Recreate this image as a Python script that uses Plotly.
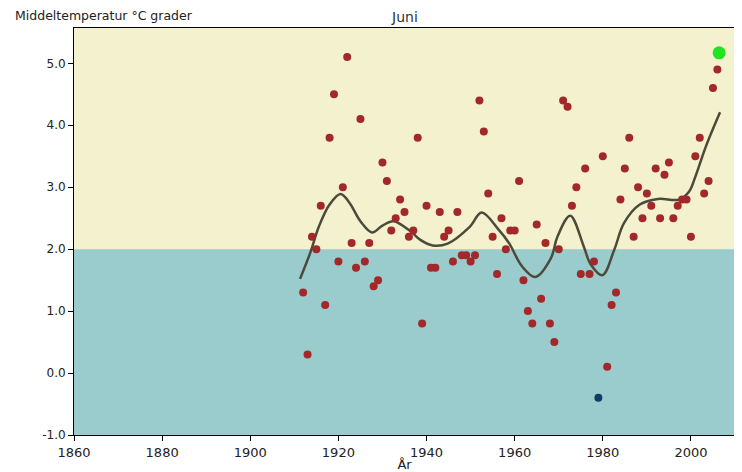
import plotly.graph_objects as go

# Data (June mean temperature, °C)
years = list(range(1912, 2007))
temps = [1.3, 0.3, 2.2, 2.0, 2.7, 1.1, 3.8, 4.5, 1.8, 3.0,
         5.1, 2.1, 1.7, 4.1, 1.8, 2.1, 1.4, 1.5, 3.4, 3.1,
         2.3, 2.5, 2.8, 2.6, 2.2, 2.3, 3.8, 0.8, 2.7, 1.7,
         1.7, 2.6, 2.2, 2.3, 1.8, 2.6, 1.9, 1.9, 1.8, 1.9,
         4.4, 3.9, 2.9, 2.2, 1.6, 2.5, 2.0, 2.3, 2.3, 3.1,
         1.5, 1.0, 0.8, 2.4, 1.2, 2.1, 0.8, 0.5, 2.0, 4.4,
         4.3, 2.7, 3.0, 1.6, 3.3, 1.6, 1.8, None, 3.5, 0.1,
         1.1, 1.3, 2.8, 3.3, 3.8, 2.2, 3.0, 2.5, 2.9, 2.7,
         3.3, 2.5, 3.2, 3.4, 2.5, 2.7, 2.8, 2.8, 2.2, 3.5,
         3.8, 2.9, 3.1, 4.6, 4.9]

min_year = [1979]
min_temp = [-0.4]
latest_year = [2006.4]
latest_temp = [5.17]

# Smoothed curve
curve_years = [1911.3, 1913.6, 1915.6, 1918.0, 1920.5, 1922.5, 1925.0, 1927.6,
               1930.0, 1932.5, 1936.5, 1938.6, 1941.4, 1944.8, 1949.8, 1952.5,
               1956.4, 1958.7, 1961.7, 1964.7, 1968.2, 1969.7, 1972.6, 1975.7,
               1977.2, 1979.9, 1982.6, 1984.8, 1988.4, 1992.5, 1997.3, 1999.6,
               2001.0, 2003.4, 2006.6]
curve_vals = [1.52, 1.94, 2.37, 2.72, 2.89, 2.75, 2.45, 2.27,
              2.38, 2.45, 2.28, 2.15, 2.06, 2.09, 2.36, 2.59,
              2.31, 2.10, 1.72, 1.55, 1.85, 2.20, 2.54, 2.04,
              1.76, 1.58, 1.99, 2.42, 2.72, 2.81, 2.80, 2.93,
              3.17, 3.66, 4.21]

x_ticks = [1860, 1880, 1900, 1920, 1940, 1960, 1980, 2000]
y_ticks = [-1.0, 0.0, 1.0, 2.0, 3.0, 4.0, 5.0]
threshold = 2.0

YELLOW = "#F3F1CE"
TEAL = "#9ACBCD"
RED = "#A3282A"

fig = go.Figure()

fig.add_trace(go.Scatter(
    x=curve_years, y=curve_vals, mode="lines", line_shape="spline",
    line=dict(color="#4B4B3C", width=2.5), hoverinfo="skip"))

fig.add_trace(go.Scatter(
    x=years, y=temps, mode="markers",
    marker=dict(color=RED, size=8, symbol="circle")))

fig.add_trace(go.Scatter(
    x=min_year, y=min_temp, mode="markers",
    marker=dict(color="#0D3D66", size=8, symbol="circle")))

fig.add_trace(go.Scatter(
    x=latest_year, y=latest_temp, mode="markers",
    marker=dict(color="#22E322", size=13, symbol="circle")))

fig.add_shape(type="rect", xref="paper", yref="y", x0=0, x1=1,
              y0=-1.0, y1=threshold, fillcolor=TEAL, line_width=0, layer="below")

font = "DejaVu Sans"
# the page body has an 8px default margin, so the figure is sized to fit
fig.update_layout(
    width=734, height=464,
    margin=dict(l=66, r=7, t=20, b=37, autoexpand=False),
    paper_bgcolor="white", plot_bgcolor=YELLOW,
    showlegend=False,
    font=dict(family=font, size=12, color="#222222"),
    annotations=[
        dict(text="Juni", xref="paper", yref="paper", x=0.5, y=1.028,
             xanchor="center", yanchor="middle", showarrow=False,
             font=dict(size=14, family=font, color="#333333")),
        dict(text="Middeltemperatur °C grader", xref="paper", yref="paper",
             x=-0.0923, y=1.0295, xanchor="left", yanchor="middle", showarrow=False,
             font=dict(size=12.5, family=font, color="#222222")),
    ],
)

fig.update_xaxes(
    range=[1860, 2010], tickvals=x_ticks, ticktext=[str(v) for v in x_ticks],
    showgrid=False, zeroline=False, showline=True, linecolor="black", linewidth=1,
    mirror=True, ticks="outside", ticklen=5, tickcolor="black", automargin=False,
    tickfont=dict(size=13, family=font),
    title=dict(text="År", font=dict(size=13, family=font), standoff=0),
)
fig.update_yaxes(
    range=[-1.0, 5.57], tickvals=y_ticks, ticktext=[f"{v:.1f}" for v in y_ticks],
    showgrid=False, zeroline=False, showline=True, linecolor="black", linewidth=1,
    mirror=True, ticks="outside", ticklen=5, tickcolor="black", automargin=False,
    tickfont=dict(size=12, family=font),
)

fig.write_html("out.html")
